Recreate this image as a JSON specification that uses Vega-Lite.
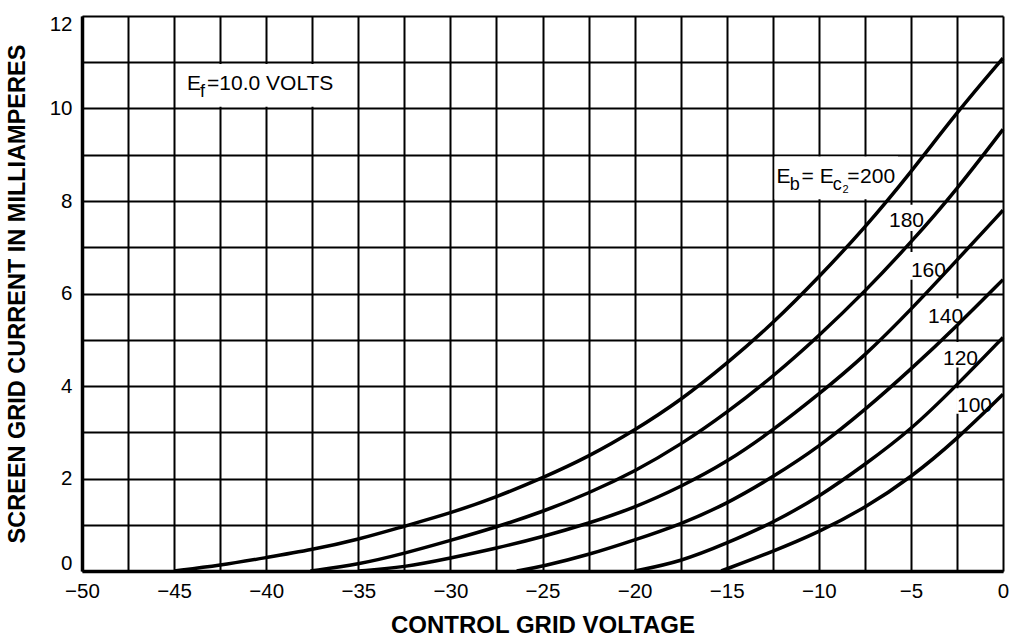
{
  "$schema": "https://vega.github.io/schema/vega-lite/v6.json",
  "width": 921,
  "height": 555,
  "autosize": {"type": "none"},
  "padding": {"left": 82, "top": 16, "right": 9, "bottom": 71},
  "background": "white",
  "config": {"view": {"stroke": null}, "font": "Liberation Sans"},
  "datasets": {
    "curves": [
      {"eb": 200, "v": -45, "ma": 0}, {"eb": 200, "v": -42.5, "ma": 0.12}, {"eb": 200, "v": -40, "ma": 0.29}, {"eb": 200, "v": -37.5, "ma": 0.46}, {"eb": 200, "v": -35, "ma": 0.68}, {"eb": 200, "v": -32.5, "ma": 0.97}, {"eb": 200, "v": -30, "ma": 1.25}, {"eb": 200, "v": -27.5, "ma": 1.6}, {"eb": 200, "v": -25, "ma": 2.01}, {"eb": 200, "v": -22.5, "ma": 2.47}, {"eb": 200, "v": -20, "ma": 3.04}, {"eb": 200, "v": -17.5, "ma": 3.69}, {"eb": 200, "v": -15, "ma": 4.48}, {"eb": 200, "v": -12.5, "ma": 5.35}, {"eb": 200, "v": -10, "ma": 6.35}, {"eb": 200, "v": -7.5, "ma": 7.42}, {"eb": 200, "v": -5, "ma": 8.62}, {"eb": 200, "v": -2.5, "ma": 9.92}, {"eb": 200, "v": 0, "ma": 11.09},
      {"eb": 180, "v": -37.6, "ma": 0}, {"eb": 180, "v": -35, "ma": 0.14}, {"eb": 180, "v": -32.5, "ma": 0.38}, {"eb": 180, "v": -30, "ma": 0.66}, {"eb": 180, "v": -27.5, "ma": 0.95}, {"eb": 180, "v": -25, "ma": 1.28}, {"eb": 180, "v": -22.5, "ma": 1.68}, {"eb": 180, "v": -20, "ma": 2.15}, {"eb": 180, "v": -17.5, "ma": 2.73}, {"eb": 180, "v": -15, "ma": 3.42}, {"eb": 180, "v": -12.5, "ma": 4.2}, {"eb": 180, "v": -10, "ma": 5.08}, {"eb": 180, "v": -7.5, "ma": 6.04}, {"eb": 180, "v": -5, "ma": 7.1}, {"eb": 180, "v": -2.5, "ma": 8.25}, {"eb": 180, "v": 0, "ma": 9.55},
      {"eb": 160, "v": -35, "ma": 0}, {"eb": 160, "v": -32.5, "ma": 0.08}, {"eb": 160, "v": -30, "ma": 0.28}, {"eb": 160, "v": -27.5, "ma": 0.49}, {"eb": 160, "v": -25, "ma": 0.74}, {"eb": 160, "v": -22.5, "ma": 1.03}, {"eb": 160, "v": -20, "ma": 1.37}, {"eb": 160, "v": -17.5, "ma": 1.82}, {"eb": 160, "v": -15, "ma": 2.35}, {"eb": 160, "v": -12.5, "ma": 3.04}, {"eb": 160, "v": -10, "ma": 3.82}, {"eb": 160, "v": -7.5, "ma": 4.65}, {"eb": 160, "v": -5, "ma": 5.65}, {"eb": 160, "v": -2.5, "ma": 6.72}, {"eb": 160, "v": 0, "ma": 7.8},
      {"eb": 140, "v": -26.4, "ma": 0}, {"eb": 140, "v": -25, "ma": 0.1}, {"eb": 140, "v": -22.5, "ma": 0.35}, {"eb": 140, "v": -20, "ma": 0.67}, {"eb": 140, "v": -17.5, "ma": 1.01}, {"eb": 140, "v": -15, "ma": 1.45}, {"eb": 140, "v": -12.5, "ma": 2.03}, {"eb": 140, "v": -10, "ma": 2.68}, {"eb": 140, "v": -7.5, "ma": 3.48}, {"eb": 140, "v": -5, "ma": 4.36}, {"eb": 140, "v": -2.5, "ma": 5.3}, {"eb": 140, "v": 0, "ma": 6.3},
      {"eb": 120, "v": -20, "ma": 0}, {"eb": 120, "v": -17.5, "ma": 0.2}, {"eb": 120, "v": -15, "ma": 0.6}, {"eb": 120, "v": -12.5, "ma": 1.04}, {"eb": 120, "v": -10, "ma": 1.6}, {"eb": 120, "v": -7.5, "ma": 2.3}, {"eb": 120, "v": -5, "ma": 3.05}, {"eb": 120, "v": -2.5, "ma": 4.02}, {"eb": 120, "v": 0, "ma": 5.05},
      {"eb": 100, "v": -15.3, "ma": 0}, {"eb": 100, "v": -12.5, "ma": 0.42}, {"eb": 100, "v": -10, "ma": 0.84}, {"eb": 100, "v": -7.5, "ma": 1.36}, {"eb": 100, "v": -5, "ma": 2.02}, {"eb": 100, "v": -2.5, "ma": 2.85}, {"eb": 100, "v": 0, "ma": 3.82}
    ],
    "boxes": [
      {"v": -44.85, "v_end": -35.15, "ma": 10.04, "ma_end": 10.96},
      {"v": -12.4, "v_end": -5.7, "ma": 8.04, "ma_end": 8.96},
      {"v": -6.25, "v_end": -4.4, "ma": 7.35, "ma_end": 7.92},
      {"v": -5.05, "v_end": -3.2, "ma": 6.3, "ma_end": 6.9},
      {"v": -4.1, "v_end": -2.3, "ma": 5.3, "ma_end": 5.9},
      {"v": -3.3, "v_end": -1.5, "ma": 4.4, "ma_end": 4.95},
      {"v": -2.55, "v_end": -0.75, "ma": 3.4, "ma_end": 3.95}
    ],
    "mainText": [
      {"v": -44.3, "ma": 10.4, "text": "E"},
      {"v": -43.21, "ma": 10.4, "text": "=10.0 VOLTS"},
      {"v": -12.3, "ma": 8.39, "text": "E"},
      {"v": -10.94, "ma": 8.39, "text": "="},
      {"v": -9.95, "ma": 8.39, "text": "E"},
      {"v": -8.45, "ma": 8.39, "text": "="},
      {"v": -7.76, "ma": 8.39, "text": "200"},
      {"v": -6.19, "ma": 7.44, "text": "180"},
      {"v": -5.0, "ma": 6.36, "text": "160"},
      {"v": -4.07, "ma": 5.36, "text": "140"},
      {"v": -3.26, "ma": 4.45, "text": "120"},
      {"v": -2.5, "ma": 3.44, "text": "100"}
    ],
    "subText": [
      {"v": -43.6, "ma": 10.4, "text": "f"},
      {"v": -11.58, "ma": 8.39, "text": "b"},
      {"v": -9.24, "ma": 8.39, "text": "c"}
    ],
    "tinyText": [
      {"v": -8.72, "ma": 8.39, "text": "2"}
    ]
  },
  "layer": [
    {
      "data": {"name": "boxes"},
      "mark": {"type": "rect", "fill": "white", "stroke": null},
      "encoding": {
        "x": {
          "field": "v", "type": "quantitative",
          "scale": {"domain": [-50, 0], "nice": false, "zero": false},
          "axis": {
            "title": "CONTROL GRID VOLTAGE",
            "values": [-50, -47.5, -45, -42.5, -40, -37.5, -35, -32.5, -30, -27.5, -25, -22.5, -20, -17.5, -15, -12.5, -10, -7.5, -5, -2.5, 0],
            "labelExpr": "datum.value % 5 === 0 ? format(datum.value, 'd') : ''",
            "grid": true, "gridColor": "black", "gridWidth": 2, "gridOpacity": 1,
            "domain": true, "domainColor": "black", "domainWidth": 3.5,
            "ticks": false, "labelPadding": 10, "labelFontSize": 20.5, "labelColor": "black",
            "labelFlush": false, "labelOverlap": false, "labelBound": false,
            "titleFontSize": 24, "titleFontWeight": "bold", "titleColor": "black", "titlePadding": 12
          }
        },
        "x2": {"field": "v_end"},
        "y": {
          "field": "ma", "type": "quantitative",
          "scale": {"domain": [0, 12], "nice": false},
          "axis": {
            "title": "SCREEN GRID CURRENT IN MILLIAMPERES",
            "values": [0, 1, 2, 3, 4, 5, 6, 7, 8, 9, 10, 11, 12],
            "labelExpr": "datum.value % 2 === 0 ? format(datum.value, 'd') : ''",
            "grid": true, "gridColor": "black", "gridWidth": 2, "gridOpacity": 1,
            "domain": true, "domainColor": "black", "domainWidth": 3.5,
            "ticks": false, "labelPadding": 10, "labelFontSize": 20.5, "labelColor": "black",
            "labelOverlap": false, "labelFlush": true, "labelFlushOffset": 2,
            "titleFontSize": 23.5, "titleFontWeight": "bold", "titleColor": "black", "titlePadding": 20
          }
        },
        "y2": {"field": "ma_end"}
      }
    },
    {
      "data": {"name": "curves"},
      "mark": {"type": "line", "color": "black", "strokeWidth": 3.5, "interpolate": "basis"},
      "encoding": {
        "x": {"field": "v", "type": "quantitative"},
        "y": {"field": "ma", "type": "quantitative"},
        "detail": {"field": "eb", "type": "nominal"}
      }
    },
    {
      "data": {"name": "mainText"},
      "mark": {"type": "text", "align": "left", "baseline": "alphabetic", "fontSize": 21, "color": "black"},
      "encoding": {
        "x": {"field": "v", "type": "quantitative"},
        "y": {"field": "ma", "type": "quantitative"},
        "text": {"field": "text"}
      }
    },
    {
      "data": {"name": "subText"},
      "mark": {"type": "text", "align": "left", "baseline": "alphabetic", "fontSize": 18, "dy": 7, "color": "black"},
      "encoding": {
        "x": {"field": "v", "type": "quantitative"},
        "y": {"field": "ma", "type": "quantitative"},
        "text": {"field": "text"}
      }
    },
    {
      "data": {"name": "tinyText"},
      "mark": {"type": "text", "align": "left", "baseline": "alphabetic", "fontSize": 11, "dy": 10, "color": "black"},
      "encoding": {
        "x": {"field": "v", "type": "quantitative"},
        "y": {"field": "ma", "type": "quantitative"},
        "text": {"field": "text"}
      }
    }
  ]
}
